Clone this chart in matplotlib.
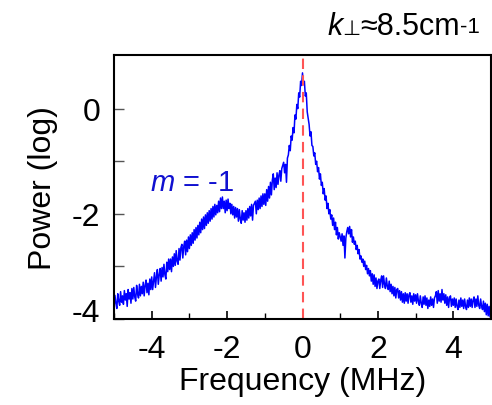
import numpy as np
import matplotlib
matplotlib.use('Agg')
import matplotlib.pyplot as plt
from matplotlib import transforms

plt.rcParams['font.family'] = ['Liberation Sans', 'DejaVu Sans']
plt.rcParams['mathtext.fontset'] = 'custom'
plt.rcParams['mathtext.rm'] = 'Liberation Sans'
plt.rcParams['mathtext.it'] = 'Liberation Sans:italic'

# ---------------------------
# 資料 (frequency step 0.025 MHz, -5 .. 5)
# ---------------------------
freq_start = -5.0
freq_step = 0.025
power = [
    # -5.00 .. -4.025
    -3.78, -3.55, -3.70, -3.80, -3.52, -3.66, -3.74, -3.48, -3.68, -3.56,
    -3.72, -3.46, -3.64, -3.52, -3.76, -3.44, -3.62, -3.50, -3.70, -3.42,
    -3.62, -3.40, -3.58, -3.66, -3.36, -3.52, -3.60, -3.34, -3.56, -3.38,
    -3.52, -3.30, -3.56, -3.36, -3.26, -3.50, -3.32, -3.54, -3.24, -3.44,
    # -4.00 .. -3.025
    -3.20, -3.44, -3.28, -3.12, -3.40, -3.20, -3.06, -3.34, -3.16, -3.04,
    -3.28, -3.02, -3.20, -2.96, -3.16, -3.24, -2.92, -3.10, -2.86, -3.06,
    -2.86, -3.10, -2.82, -3.00, -2.76, -2.98, -2.70, -2.90, -2.96, -2.66,
    -2.88, -2.64, -2.58, -2.84, -2.62, -2.52, -2.78, -2.50, -2.72, -2.44,
    # -3.00 .. -2.025
    -2.66, -2.40, -2.60, -2.36, -2.56, -2.30, -2.50, -2.26, -2.46, -2.22,
    -2.40, -2.16, -2.36, -2.10, -2.30, -2.06, -2.28, -2.02, -2.22, -1.98,
    -2.18, -1.94, -2.14, -1.90, -2.10, -1.86, -2.06, -1.82, -2.02, -1.84,
    -1.98, -1.76, -1.96, -1.70, -1.90, -1.68, -1.90, -1.76, -1.98, -1.74,
    # -2.00 .. -1.025
    -1.94, -1.72, -1.90, -1.80, -2.00, -1.82, -2.02, -1.86, -2.08, -1.88,
    -2.06, -1.90, -2.14, -1.92, -2.10, -2.18, -1.94, -2.12, -1.98, -2.16,
    -1.94, -2.12, -1.90, -2.08, -1.86, -2.04, -1.82, -2.12, -1.84, -1.80,
    -1.76, -2.00, -1.74, -1.92, -1.70, -1.90, -1.66, -1.86, -1.62, -1.82,
    # -1.00 .. -0.025
    -1.62, -1.84, -1.54, -1.76, -1.48, -1.70, -1.40, -1.64, -1.36, -1.24,
    -1.54, -1.32, -1.50, -1.22, -1.44, -1.26, -1.18, -1.38, -1.14, -1.08,
    -1.02, -1.22, -1.06, -1.40, -0.94, -0.88, -0.70, -0.80, -0.52, -0.60,
    -0.36, -0.46, -0.12, -0.20, 0.08, 0.00, 0.30, 0.22, 0.52, 0.44,
    # 0.00
    0.68,
    # 0.025 .. 1.00
    0.46, 0.52, 0.24, 0.30, -0.06, -0.18, -0.30, -0.52, -0.44, -0.70,
    -0.72, -0.90, -0.84, -1.06, -1.00, -1.20, -1.12, -1.34, -1.24, -1.46,
    -1.40, -1.62, -1.52, -1.74, -1.66, -1.90, -1.80, -2.00, -1.92, -2.10,
    -2.02, -2.22, -2.08, -2.30, -2.16, -2.40, -2.26, -2.48, -2.36, -2.44,
    # 1.025 .. 2.00
    -2.52, -2.38, -2.60, -2.42, -2.84, -2.46, -2.34, -2.26, -2.38, -2.24,
    -2.44, -2.30, -2.54, -2.44, -2.58, -2.52, -2.68, -2.60, -2.76, -2.68,
    -2.86, -2.80, -2.92, -2.86, -3.00, -2.90, -3.06, -2.98, -3.14, -3.04,
    -3.18, -3.08, -3.28, -3.14, -3.34, -3.16, -3.38, -3.22, -3.42, -3.28,
    # 2.025 .. 3.00
    -3.24, -3.42, -3.26, -3.18, -3.40, -3.18, -3.34, -3.42, -3.22, -3.38,
    -3.44, -3.28, -3.48, -3.34, -3.52, -3.38, -3.56, -3.40, -3.60, -3.44,
    -3.42, -3.60, -3.46, -3.64, -3.48, -3.68, -3.52, -3.70, -3.50, -3.66,
    -3.52, -3.70, -3.54, -3.50, -3.68, -3.56, -3.72, -3.52, -3.66, -3.54,
    # 3.025 .. 4.00
    -3.70, -3.52, -3.66, -3.74, -3.56, -3.70, -3.78, -3.58, -3.72, -3.56,
    -3.74, -3.60, -3.80, -3.64, -3.76, -3.58, -3.74, -3.62, -3.78, -3.60,
    -3.56, -3.48, -3.70, -3.46, -3.66, -3.52, -3.68, -3.44, -3.64, -3.52,
    -3.70, -3.54, -3.74, -3.58, -3.78, -3.60, -3.56, -3.76, -3.62, -3.74,
    # 4.025 .. 5.00
    -3.60, -3.78, -3.62, -3.76, -3.82, -3.64, -3.78, -3.60, -3.76, -3.64,
    -3.80, -3.62, -3.76, -3.82, -3.64, -3.78, -3.60, -3.76, -3.62, -3.78,
    -3.64, -3.58, -3.78, -3.62, -3.76, -3.56, -3.74, -3.80, -3.62, -3.76,
    -3.82, -3.66, -3.86, -3.70, -3.92, -3.72, -3.94, -3.76, -3.96, -3.80,
]
freq = freq_start + freq_step * np.arange(len(power))

xticks_major = [-4, -2, 0, 2, 4]
xticks_minor = [-5, -3, -1, 1, 3, 5]
yticks_major = [-4, -2, 0]
yticks_minor = [-3, -1]

# ---------------------------
# 畫圖
# ---------------------------
fig = plt.figure(figsize=(4.92, 4.06), dpi=100)
ax = fig.add_axes([114 / 492, 86 / 406, 377 / 492, 264 / 406])

ax.plot(freq, power, color='#0000ff', lw=1.1)
ax.axvline(0, color='#ff5555', lw=1.5, ls=(0, (5, 3)))

ax.set_xlim(-5, 5)
ax.set_ylim(-4, 1.02)
ax.set_xticks(xticks_major)
ax.set_xticks(xticks_minor, minor=True)
ax.set_yticks(yticks_major)
ax.set_yticks(yticks_minor, minor=True)
ax.set_xticklabels([str(v) for v in xticks_major])
ax.set_yticklabels([str(v) for v in yticks_major])

for s in ax.spines.values():
    s.set_linewidth(1.5)
    s.set_color('black')

ax.tick_params(axis='x', which='major', direction='in', length=6, width=1.2,
               labelsize=23, pad=11, top=False)
ax.tick_params(axis='x', which='minor', direction='in', length=4, width=1.0, top=False)
ax.tick_params(axis='y', which='both', direction='in', length=7, width=1.0,
               color='#555555', labelsize=23, pad=10, right=False)

ax.set_xlabel('Frequency (MHz)', fontsize=23, labelpad=1)
ax.set_ylabel('Power (log)', fontsize=23, labelpad=10)

# -4 標籤稍微上移
for lab in ax.get_yticklabels():
    if lab.get_text() == '-4':
        lab.set_transform(lab.get_transform() + transforms.ScaledTranslation(0, 7 / 72, fig.dpi_scale_trans))

ax.text(0.095, 0.52, r'$m$ = -1', transform=ax.transAxes, color='#1010d0',
        fontsize=21, ha='left', va='center')

# 標題 k⊥≈8.5cm-1（分段）
fig.canvas.draw()
renderer = fig.canvas.get_renderer()
pieces = [('k', 22, 'italic', 0), ('⊥', 15, 'normal', 0), ('≈8.5cm', 22, 'normal', 0), ('-1', 16, 'normal', 2)]
x_px = 327
for txt, size, style, rise in pieces:
    t = fig.text(x_px / 492, (406 - 35 + rise) / 406, txt, fontsize=size, style=style,
                 ha='left', va='baseline')
    bb = t.get_window_extent(renderer)
    x_px += bb.width

fig.savefig('out.png', dpi=100)
